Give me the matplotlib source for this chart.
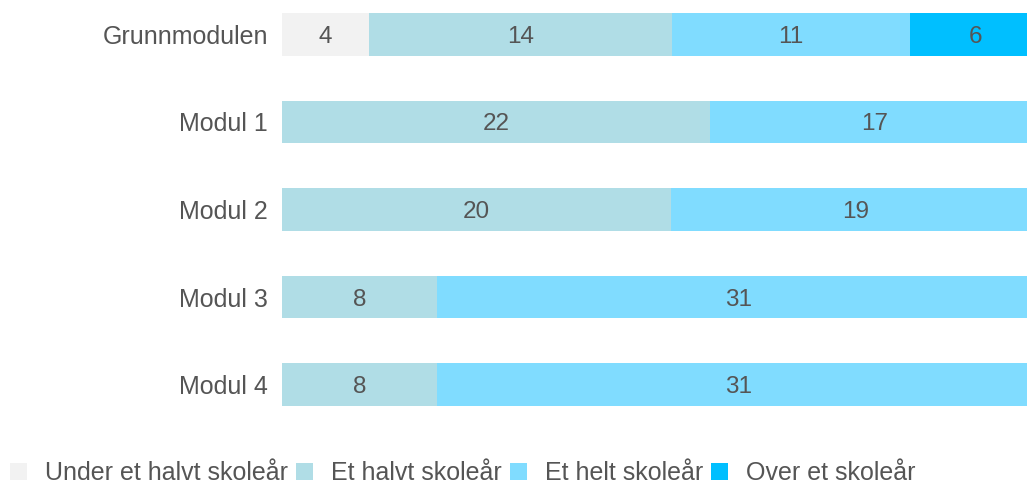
import numpy as np
import matplotlib.pyplot as plt

plt.rcParams['font.family'] = ['Liberation Sans', 'DejaVu Sans']

# data
moduler = ["Grunnmodulen", "Modul 1", "Modul 2", "Modul 3", "Modul 4"]
kategorier = ["Under et halvt skoleår", "Et halvt skoleår", "Et helt skoleår", "Over et skoleår"]
under_halvt = np.array([4, 0, 0, 0, 0])
halvt = np.array([14, 22, 20, 8, 8])
helt = np.array([11, 17, 19, 31, 31])
over = np.array([6, 0, 0, 0, 0])

farger = ["#f2f2f2", "#b0dde6", "#80dcff", "#00bfff"]
tekstfarge = "#555555"

serier = [under_halvt, halvt, helt, over]
total = sum(serier)

fig = plt.figure(figsize=(10.27, 4.83), dpi=100)
# plot area runs a little past the right edge of the picture (clipped like the original)
ax = fig.add_axes([282 / 1027, 1 - 406 / 483, 758 / 1027, 393 / 483])

y = np.arange(len(moduler))
venstre = np.zeros(len(moduler))
for navn, verdier, farge in zip(kategorier, serier, farger):
    andel = verdier / total
    ax.barh(y, andel, left=venstre, height=0.49, color=farge, label=navn)
    for i in range(len(moduler)):
        if verdier[i] > 0:
            ax.text(venstre[i] + andel[i] / 2, y[i], str(verdier[i]), ha="center", va="center_baseline",
                    fontsize=17.5, color=tekstfarge)
    venstre += andel

ax.set_xlim(0, 1)
ax.set_ylim(4.245, -0.245)
ax.set_yticks(y)
ax.set_yticklabels(moduler, fontsize=18, color=tekstfarge)
ax.tick_params(axis="y", length=0, pad=10)
ax.set_xticks([])
for s in ax.spines.values():
    s.set_visible(False)

leg = fig.legend(loc="center left", bbox_to_anchor=(10 / 1027, 1 - 473 / 483), ncol=4, frameon=False,
                 fontsize=18, handlelength=0.68, handleheight=0.68, handletextpad=0.72,
                 columnspacing=0.32, borderpad=0, borderaxespad=0, labelcolor=tekstfarge)

fig.savefig("out.png", dpi=100)
